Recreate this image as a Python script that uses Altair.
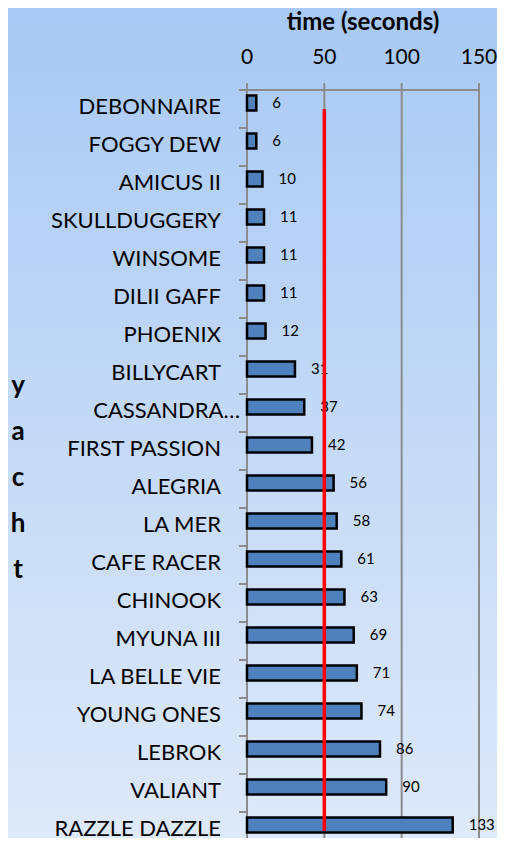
import altair as alt
import pandas as pd

yachts = ["DEBONNAIRE", "FOGGY DEW", "AMICUS II", "SKULLDUGGERY", "WINSOME",
          "DILII GAFF", "PHOENIX", "BILLYCART", "CASSANDRA…", "FIRST PASSION",
          "ALEGRIA", "LA MER", "CAFE RACER", "CHINOOK", "MYUNA III",
          "LA BELLE VIE", "YOUNG ONES", "LEBROK", "VALIANT", "RAZZLE DAZZLE"]
times = [6, 6, 10, 11, 11, 11, 12, 31, 37, 42, 56, 58, 61, 63, 69, 71, 74, 86, 90, 133]
x_ticks = [0, 50, 100, 150]
target = 50
x_title = "time (seconds)"
y_title = ["y", "a", "c", "h", "t"]

W = 232          # plot width
H = 760          # full band range (20 rows x 38px)
VIEW_H = 748     # visible part of the plot (page bottom cuts it, as in the reference)
LEFT, TOP, RIGHT = 239, 82, 18
FONT = "Lato"
GRAY = "#8c8c8c"

df = pd.DataFrame({"yacht": yachts, "time": times})
grid_df = pd.DataFrame({"v": x_ticks})
target_df = pd.DataFrame({"t": [target], "y1": [yachts[0]], "y2": [yachts[-1]]})
one = pd.DataFrame({"a": [0]})

x_scale = alt.Scale(domain=[0, 150], nice=False)
y_scale = alt.Scale(domain=yachts, range=[0, H], paddingInner=0, paddingOuter=0)
X = lambda f: alt.X(f, scale=x_scale, axis=None)
Y = lambda f, **k: alt.Y(f, scale=y_scale, sort=yachts, axis=None, **k)

bg = alt.Chart(one).mark_rect(
    color=alt.Gradient(
        gradient="linear",
        stops=[alt.GradientStop(color="#a8c9f4", offset=0),
               alt.GradientStop(color="#dee9f9", offset=1)],
        x1=0, x2=0, y1=0, y2=1)
).encode(x=alt.value(-LEFT), x2=alt.value(W + RIGHT), y=alt.value(-TOP), y2=alt.value(VIEW_H))

grid = alt.Chart(grid_df).mark_rule(color=GRAY, strokeWidth=2).encode(
    x=X("v:Q"), y=alt.value(-7), y2=alt.value(H))

topline = alt.Chart(one).mark_rule(color=GRAY, strokeWidth=2).encode(
    x=alt.value(-8), x2=alt.value(W), y=alt.value(0))

yticks = alt.Chart(df).mark_rule(color=GRAY, strokeWidth=2).encode(
    y=Y("yacht:N", bandPosition=0), x=alt.value(-8), x2=alt.value(0))

bars = alt.Chart(df).mark_bar(size=15, fill="#4f81bd", stroke="black", strokeWidth=2.5,
                              yOffset=-6).encode(
    x=X("time:Q"), y=Y("yacht:N"))

labels = alt.Chart(df).mark_text(align="left", baseline="middle", dx=16, dy=-6, fontSize=15,
                                 font=FONT, color="black").encode(
    x=X("time:Q"), y=Y("yacht:N"), text="time:Q")

redline = alt.Chart(target_df).mark_rule(color="#ff0000", strokeWidth=3.5).encode(
    x=X("t:Q"), y=Y("y1:N"), y2="y2:N")

ylabels = alt.Chart(df).transform_filter("indexof(datum.yacht, '…') < 0").mark_text(
    align="right", baseline="middle", dx=-26, dy=-2, fontSize=22, font=FONT, color="black").encode(
    x=alt.value(0), y=Y("yacht:N"), text="yacht:N")

ylabels_trunc = alt.Chart(df).transform_filter("indexof(datum.yacht, '…') >= 0").mark_text(
    align="right", baseline="middle", dx=-7, dy=-2, fontSize=22, font=FONT, color="black").encode(
    x=alt.value(0), y=Y("yacht:N"), text="yacht:N")

xlabels = alt.Chart(grid_df).mark_text(align="center", baseline="top", fontSize=21,
                                       font=FONT, color="black").encode(
    x=X("v:Q"), y=alt.value(-43), text="v:Q")

xtitle = alt.Chart(one).mark_text(text=x_title, align="center", baseline="top",
                                  fontSize=24, fontWeight="bold", font=FONT, color="black").encode(
    x=alt.value(W / 2), y=alt.value(-79))

ytitle = alt.Chart(one).mark_text(text=y_title, align="center", baseline="alphabetic",
                                  lineHeight=46, fontSize=26, fontWeight="bold", font=FONT,
                                  color="black").encode(
    x=alt.value(-229), y=alt.value(304))

chart = alt.layer(bg, grid, topline, yticks, bars, labels, redline,
                  ylabels, ylabels_trunc, xlabels, xtitle, ytitle).properties(
    width=W, height=VIEW_H,
    autosize=alt.AutoSizeParams(type="none"),
    padding={"left": LEFT, "top": TOP, "right": RIGHT, "bottom": 0}
).configure_view(stroke=None)

chart.save("out.html", embed_options={"renderer": "svg", "actions": False})
